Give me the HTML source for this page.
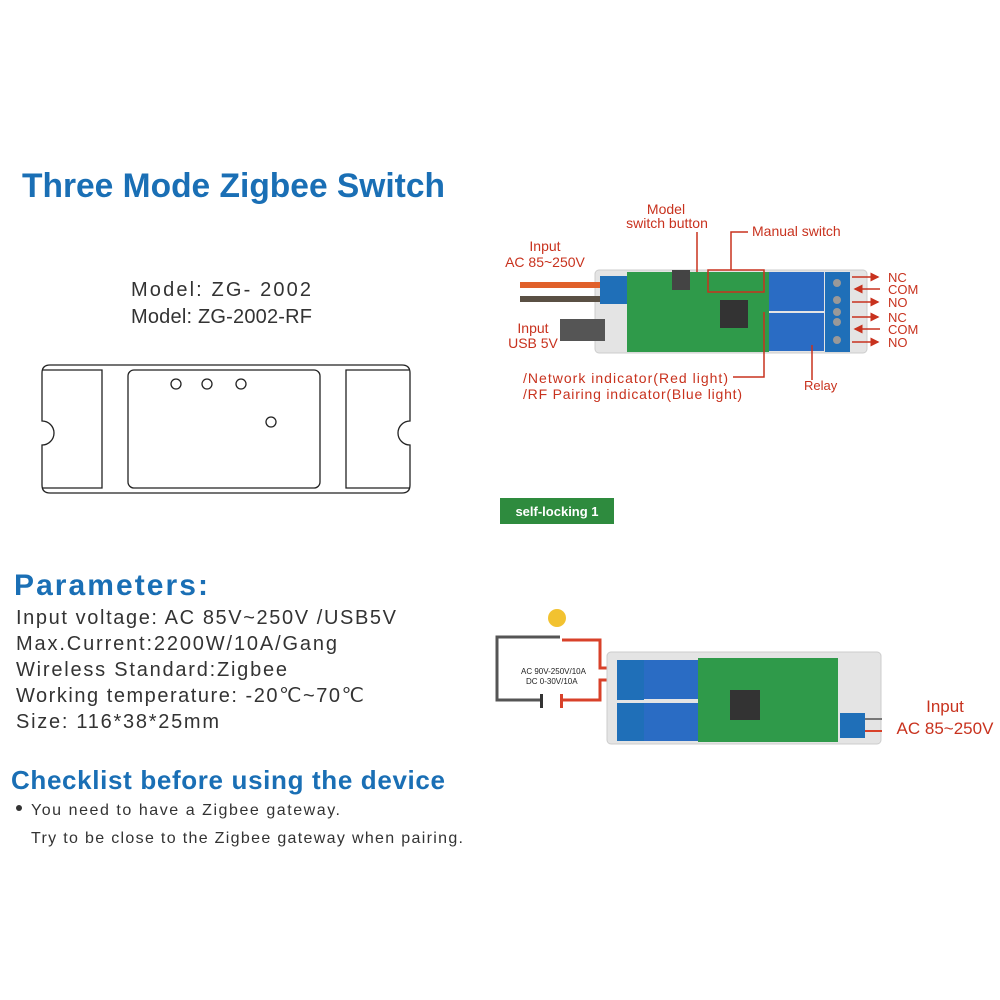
<!DOCTYPE html>
<html><head><meta charset="utf-8"><style>
body{margin:0;width:1000px;height:1000px;background:#fff;overflow:hidden;font-family:"Liberation Sans",sans-serif}
svg{position:absolute;left:0;top:0}
</style></head><body>
<svg width="1000" height="1000" viewBox="0 0 1000 1000" font-family="Liberation Sans, sans-serif">
<defs><marker id="a" markerWidth="6" markerHeight="6" refX="5" refY="3" orient="auto"><path d="M0,0L6,3L0,6z" fill="#c8321e"/></marker></defs>
<text x="22" y="197" font-size="34" font-weight="bold" fill="#1a6fb5" textLength="423" lengthAdjust="spacingAndGlyphs">Three Mode Zigbee Switch</text>
<text x="131" y="296" font-size="20" fill="#333" textLength="180">Model:  ZG- 2002</text>
<text x="131" y="323" font-size="20" fill="#333" textLength="181">Model:  ZG-2002-RF</text>
<g fill="none" stroke="#222" stroke-width="1.3">
<path d="M50,365H402Q410,365 410,373V421A12,12 0 0 0 410,445V485Q410,493 402,493H50Q42,493 42,485V445A12,12 0 0 0 42,421V373Q42,365 50,365Z"/>
<rect x="128" y="370" width="192" height="118" rx="6"/>
<path d="M42,370H102V488H42"/>
<path d="M409,370H346V488H409"/>
<circle cx="176" cy="384" r="5"/><circle cx="207" cy="384" r="5"/><circle cx="241" cy="384" r="5"/><circle cx="271" cy="422" r="5"/>
</g>
<rect x="595" y="270" width="272" height="83" rx="4" fill="#e4e4e4" stroke="#ccc"/>
<rect x="520" y="282" width="80" height="6" fill="#e0602a"/>
<rect x="520" y="296" width="80" height="6" fill="#5a5044"/>
<rect x="560" y="319" width="45" height="22" fill="#555"/>
<rect x="600" y="276" width="30" height="28" fill="#1f6fb8"/>
<rect x="627" y="272" width="142" height="80" fill="#2f9a4a"/>
<rect x="720" y="300" width="28" height="28" fill="#333"/>
<rect x="672" y="270" width="18" height="20" fill="#444"/>
<rect x="708" y="270" width="56" height="22" fill="none" stroke="#c8321e" stroke-width="1.5"/>
<rect x="769" y="272" width="55" height="39" fill="#2a6cc4"/>
<rect x="769" y="313" width="55" height="38" fill="#2a6cc4"/>
<rect x="825" y="272" width="25" height="80" fill="#1f6fb8"/>
<circle cx="837" cy="283" r="4" fill="#999"/><circle cx="837" cy="300" r="4" fill="#999"/><circle cx="837" cy="312" r="4" fill="#999"/><circle cx="837" cy="322" r="4" fill="#999"/><circle cx="837" cy="340" r="4" fill="#999"/>
<g stroke="#c8321e" stroke-width="1.5" fill="none">
<line x1="697" y1="232" x2="697" y2="272"/>
<polyline points="731,270 731,232 748,232"/>
<polyline points="733,377 764,377 764,312"/>
<line x1="812" y1="345" x2="812" y2="380"/>
<line x1="852" y1="277" x2="878" y2="277" marker-end="url(#a)"/>
<line x1="880" y1="289" x2="855" y2="289" marker-end="url(#a)"/>
<line x1="852" y1="302" x2="878" y2="302" marker-end="url(#a)"/>
<line x1="852" y1="317" x2="878" y2="317" marker-end="url(#a)"/>
<line x1="880" y1="329" x2="855" y2="329" marker-end="url(#a)"/>
<line x1="852" y1="342" x2="878" y2="342" marker-end="url(#a)"/>
</g>
<g fill="#c8321e" font-size="14">
<text x="666" y="214" text-anchor="middle">Model</text>
<text x="667" y="228" text-anchor="middle">switch button</text>
<text x="752" y="236">Manual switch</text>
<text x="545" y="251" text-anchor="middle">Input</text>
<text x="545" y="267" text-anchor="middle">AC 85~250V</text>
<text x="533" y="333" text-anchor="middle">Input</text>
<text x="533" y="348" text-anchor="middle">USB 5V</text>
<text x="523" y="383" textLength="205">/Network indicator(Red light)</text>
<text x="523" y="399" textLength="219">/RF Pairing indicator(Blue light)</text>
<text x="804" y="390" font-size="13">Relay</text>
<text x="888" y="282" font-size="13">NC</text><text x="888" y="294" font-size="13">COM</text><text x="888" y="307" font-size="13">NO</text>
<text x="888" y="322" font-size="13">NC</text><text x="888" y="334" font-size="13">COM</text><text x="888" y="347" font-size="13">NO</text>
</g>
<rect x="500" y="498" width="114" height="26" fill="#2e8b3e"/>
<text x="557" y="516" text-anchor="middle" fill="#fff" font-size="13" font-weight="bold">self-locking 1</text>
<text x="14" y="595" font-size="30" font-weight="bold" fill="#1a6fb5" textLength="194">Parameters:</text>
<g font-size="20" fill="#333">
<text x="16" y="624" textLength="380">Input voltage:  AC 85V~250V /USB5V</text>
<text x="16" y="650" textLength="321">Max.Current:2200W/10A/Gang</text>
<text x="16" y="676" textLength="271">Wireless Standard:Zigbee</text>
<text x="16" y="702" textLength="348">Working temperature: -20℃~70℃</text>
<text x="16" y="728" textLength="203">Size: 116*38*25mm</text>
</g>
<text x="11" y="789" font-size="26" font-weight="bold" fill="#1a6fb5" textLength="434">Checklist before using the device</text>
<circle cx="19" cy="808" r="3" fill="#333"/>
<text x="31" y="815" font-size="16" fill="#333" textLength="309">You need to have a Zigbee gateway.</text>
<text x="31" y="843" font-size="16" fill="#333" textLength="432">Try to be close to the Zigbee gateway when pairing.</text>
<polyline points="560,637 497,637 497,700 540,700" fill="none" stroke="#555" stroke-width="3"/>
<rect x="540" y="694" width="3" height="14" fill="#333"/>
<circle cx="557" cy="618" r="9" fill="#f2c230"/>
<polyline points="562,640 600,640 600,668 620,668" fill="none" stroke="#d8412a" stroke-width="3"/>
<polyline points="563,700 600,700 600,680 620,680" fill="none" stroke="#d8412a" stroke-width="3"/>
<rect x="560" y="694" width="3" height="14" fill="#d8412a"/>
<rect x="607" y="652" width="274" height="92" rx="4" fill="#e4e4e4" stroke="#ccc"/>
<rect x="617" y="660" width="27" height="40" fill="#1f6fb8"/>
<rect x="617" y="703" width="27" height="38" fill="#1f6fb8"/>
<rect x="644" y="660" width="54" height="39" fill="#2a6cc4"/>
<rect x="644" y="703" width="54" height="38" fill="#2a6cc4"/>
<rect x="698" y="658" width="140" height="84" fill="#2f9a4a"/>
<rect x="730" y="690" width="30" height="30" fill="#333"/>
<rect x="840" y="713" width="25" height="25" fill="#1f6fb8"/>
<line x1="865" y1="719" x2="882" y2="719" stroke="#777" stroke-width="2"/>
<line x1="865" y1="731" x2="882" y2="731" stroke="#d8412a" stroke-width="2"/>
<text x="521" y="674" font-size="8" fill="#222">AC 90V-250V/10A</text>
<text x="526" y="684" font-size="8" fill="#222">DC 0-30V/10A</text>
<text x="945" y="712" text-anchor="middle" font-size="17" fill="#c8321e">Input</text>
<text x="945" y="734" text-anchor="middle" font-size="17" fill="#c8321e">AC 85~250V</text>
</svg>
</body></html>
